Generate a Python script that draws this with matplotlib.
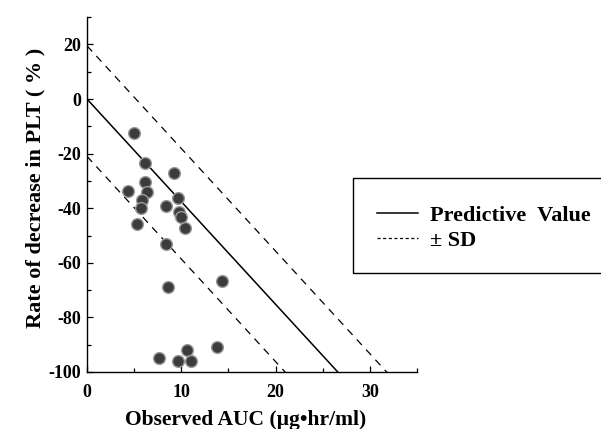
import matplotlib
matplotlib.use("Agg")
import matplotlib.pyplot as plt
from matplotlib.patches import Rectangle
from matplotlib.lines import Line2D
import numpy as np

plt.rcParams['font.family'] = ['Liberation Serif', 'DejaVu Serif']
plt.rcParams['font.weight'] = 'bold'
plt.rcParams['axes.unicode_minus'] = False

# observed AUC vs rate of decrease in PLT
auc = [5.0, 6.2, 9.2, 6.2, 6.4, 4.3, 9.6, 5.8, 5.7, 8.4, 9.8, 10.0, 10.4,
       5.3, 8.4, 8.6, 14.3, 13.8, 10.6, 7.6, 9.7, 11.0]
plt_decrease = [-12.3, -23.6, -27.0, -30.4, -34.2, -33.8, -36.2, -36.9, -40.0,
                -39.0, -41.5, -43.2, -47.1, -45.9, -53.2, -68.7, -66.7, -90.7,
                -92.1, -94.7, -96.0, -95.9]

slope = -3.76
intercept = 0.0
sd_upper = 19.5
sd_lower = -21.0

fig = plt.figure(figsize=(6.01, 4.29), dpi=100)
ax = fig.add_axes([0.1448, 0.1329, 0.549, 0.827])

xs = np.array([0, 35])
ax.plot(xs, slope * xs + intercept, color='black', lw=1.1)
ax.plot(xs, slope * xs + sd_upper, color='black', lw=0.9, dashes=(6, 5))
ax.plot(xs, slope * xs + sd_lower, color='black', lw=0.9, dashes=(6, 5))

ax.scatter(auc, plt_decrease, s=72, facecolor='#3c3c3c', edgecolor='#9a9a9a',
           linewidth=1.0, zorder=3)

ax.set_xlim(0, 35)
ax.set_ylim(-100, 30)
ax.set_xticks([0, 10, 20, 30])
ax.set_xticks([5, 15, 25, 35], minor=True)
ax.set_yticks([-100, -80, -60, -40, -20, 0, 20])
ax.set_yticks([-90, -70, -50, -30, -10, 10, 30], minor=True)
ax.tick_params(which='both', direction='in', labelsize=13, width=0.9)
ax.tick_params(which='major', length=4)
ax.tick_params(which='minor', length=3)
ax.tick_params(axis='x', pad=9)
ax.tick_params(axis='y', pad=4)
for lab in ax.get_xticklabels() + ax.get_yticklabels():
    lab.set_fontweight('bold')

for s in ['top', 'right']:
    ax.spines[s].set_visible(False)
for s in ['left', 'bottom']:
    ax.spines[s].set_linewidth(1.0)

ax.set_xlabel('Observed AUC (\u00b5g\u2022hr/ml)', fontsize=15.5, fontweight='bold')
ax.xaxis.set_label_coords(0.48, -0.108)
ax.set_ylabel('Rate of decrease in PLT ( % )', fontsize=16, fontweight='bold')
ax.yaxis.set_label_coords(-0.125, 0.52)

# legend box on the right
fig.patches.append(Rectangle((353 / 601, 1 - 273 / 429), 250 / 601, 95 / 429,
                             transform=fig.transFigure, fill=False,
                             edgecolor='black', lw=1.0))
h1 = Line2D([], [], color='black', lw=1.1)
h2 = Line2D([], [], color='black', lw=0.9, dashes=(2.5, 2))
fig.legend(handles=[h1, h2], labels=['Predictive  Value', '\u00b1 SD'],
           loc='center left', bbox_to_anchor=(377 / 601, 1 - 228 / 429),
           frameon=False, prop={'size': 16, 'weight': 'bold'}, handlelength=1.85,
           handletextpad=0.55, labelspacing=0.2, borderpad=0, borderaxespad=0)

fig.savefig('out.png', dpi=100)
